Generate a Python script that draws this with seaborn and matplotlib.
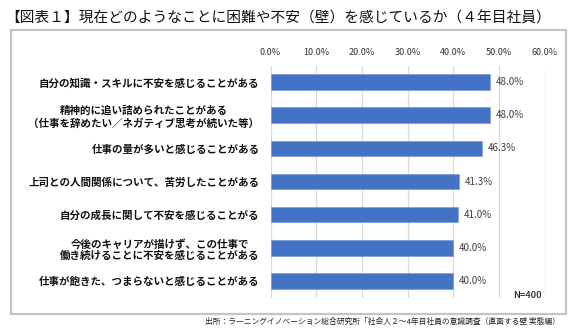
import matplotlib
matplotlib.use("Agg")
import matplotlib.pyplot as plt
from matplotlib.patches import Rectangle
from matplotlib.ticker import FuncFormatter
import seaborn as sns
import pandas as pd

# chart data
categories = [
    "自分の知識・スキルに不安を感じることがある",
    "精神的に追い詰められたことがある\n（仕事を辞めたい／ネガティブ思考が続いた等）",
    "仕事の量が多いと感じることがある",
    "上司との人間関係について、苦労したことがある",
    "自分の成長に関して不安を感じることがる",
    "今後のキャリアが描けず、この仕事で\n働き続けることに不安を感じることがある",
    "仕事が飽きた、つまらないと感じることがある",
]
values = [48.0, 48.0, 46.3, 41.3, 41.0, 40.0, 40.0]
x_ticks = [0, 10, 20, 30, 40, 50, 60]

title = "【図表１】現在どのようなことに困難や不安（壁）を感じているか（４年目社員）"
source = "出所：ラーニングイノベーション総合研究所「社会人２～4年目社員の意識調査（直面する壁 実態編）"
n_note = "N=400"

sns.set_theme(style="white")
plt.rcParams["font.family"] = ["Noto Sans CJK JP", "DejaVu Sans"]

df = pd.DataFrame({"item": categories, "pct": values})

W, H = 574, 334
fig = plt.figure(figsize=(W / 100, H / 100), dpi=100)

# outer frame
fig.patches.append(Rectangle((11 / W, 1 - 314 / H), 555 / W, 284 / H,
                             transform=fig.transFigure, fill=False,
                             edgecolor="#c4c4c4", linewidth=1.6))

ax = fig.add_axes([270.5 / W, 1 - 297.5 / H, 274.2 / W, 232 / H])
sns.barplot(data=df, x="pct", y="item", ax=ax, color="#4472c4",
            width=0.47, saturation=1, edgecolor="#7f9fd8", linewidth=0.6)

ax.set_xlim(0, 60)
ax.set_xticks(x_ticks)
ax.xaxis.set_major_formatter(FuncFormatter(lambda v, p: f"{v:.1f}%"))
ax.xaxis.tick_top()
ax.tick_params(axis="x", length=0, pad=6, labelsize=6.5, labelcolor="#333333")
ax.tick_params(axis="y", length=0, pad=8)
ax.grid(axis="x", color="#d9d9d9", linewidth=0.9)
ax.set_axisbelow(True)
for s in ax.spines.values():
    s.set_visible(False)
ax.set_xlabel("")
ax.set_ylabel("")
for lab in ax.get_yticklabels():
    lab.set_fontsize(7.6)
    lab.set_fontweight("bold")
    lab.set_multialignment("center")
    lab.set_color("#111111")

for i, v in enumerate(values):
    ax.text(v + 1.3, i, f"{v:.1f}%", va="center", ha="left",
            fontsize=7, color="#404040")

fig.text(5 / W, 1 - 18 / H, title, fontsize=10.6, va="center", ha="left",
         color="#111111")
fig.text(542 / W, 1 - 296 / H, n_note, fontsize=6.8, ha="right", va="center",
         color="#222222", fontweight="medium")
fig.text(560 / W, 1 - 322 / H, source, fontsize=5.6, ha="right", va="center",
         color="#222222")

fig.savefig("out.png", dpi=100)
